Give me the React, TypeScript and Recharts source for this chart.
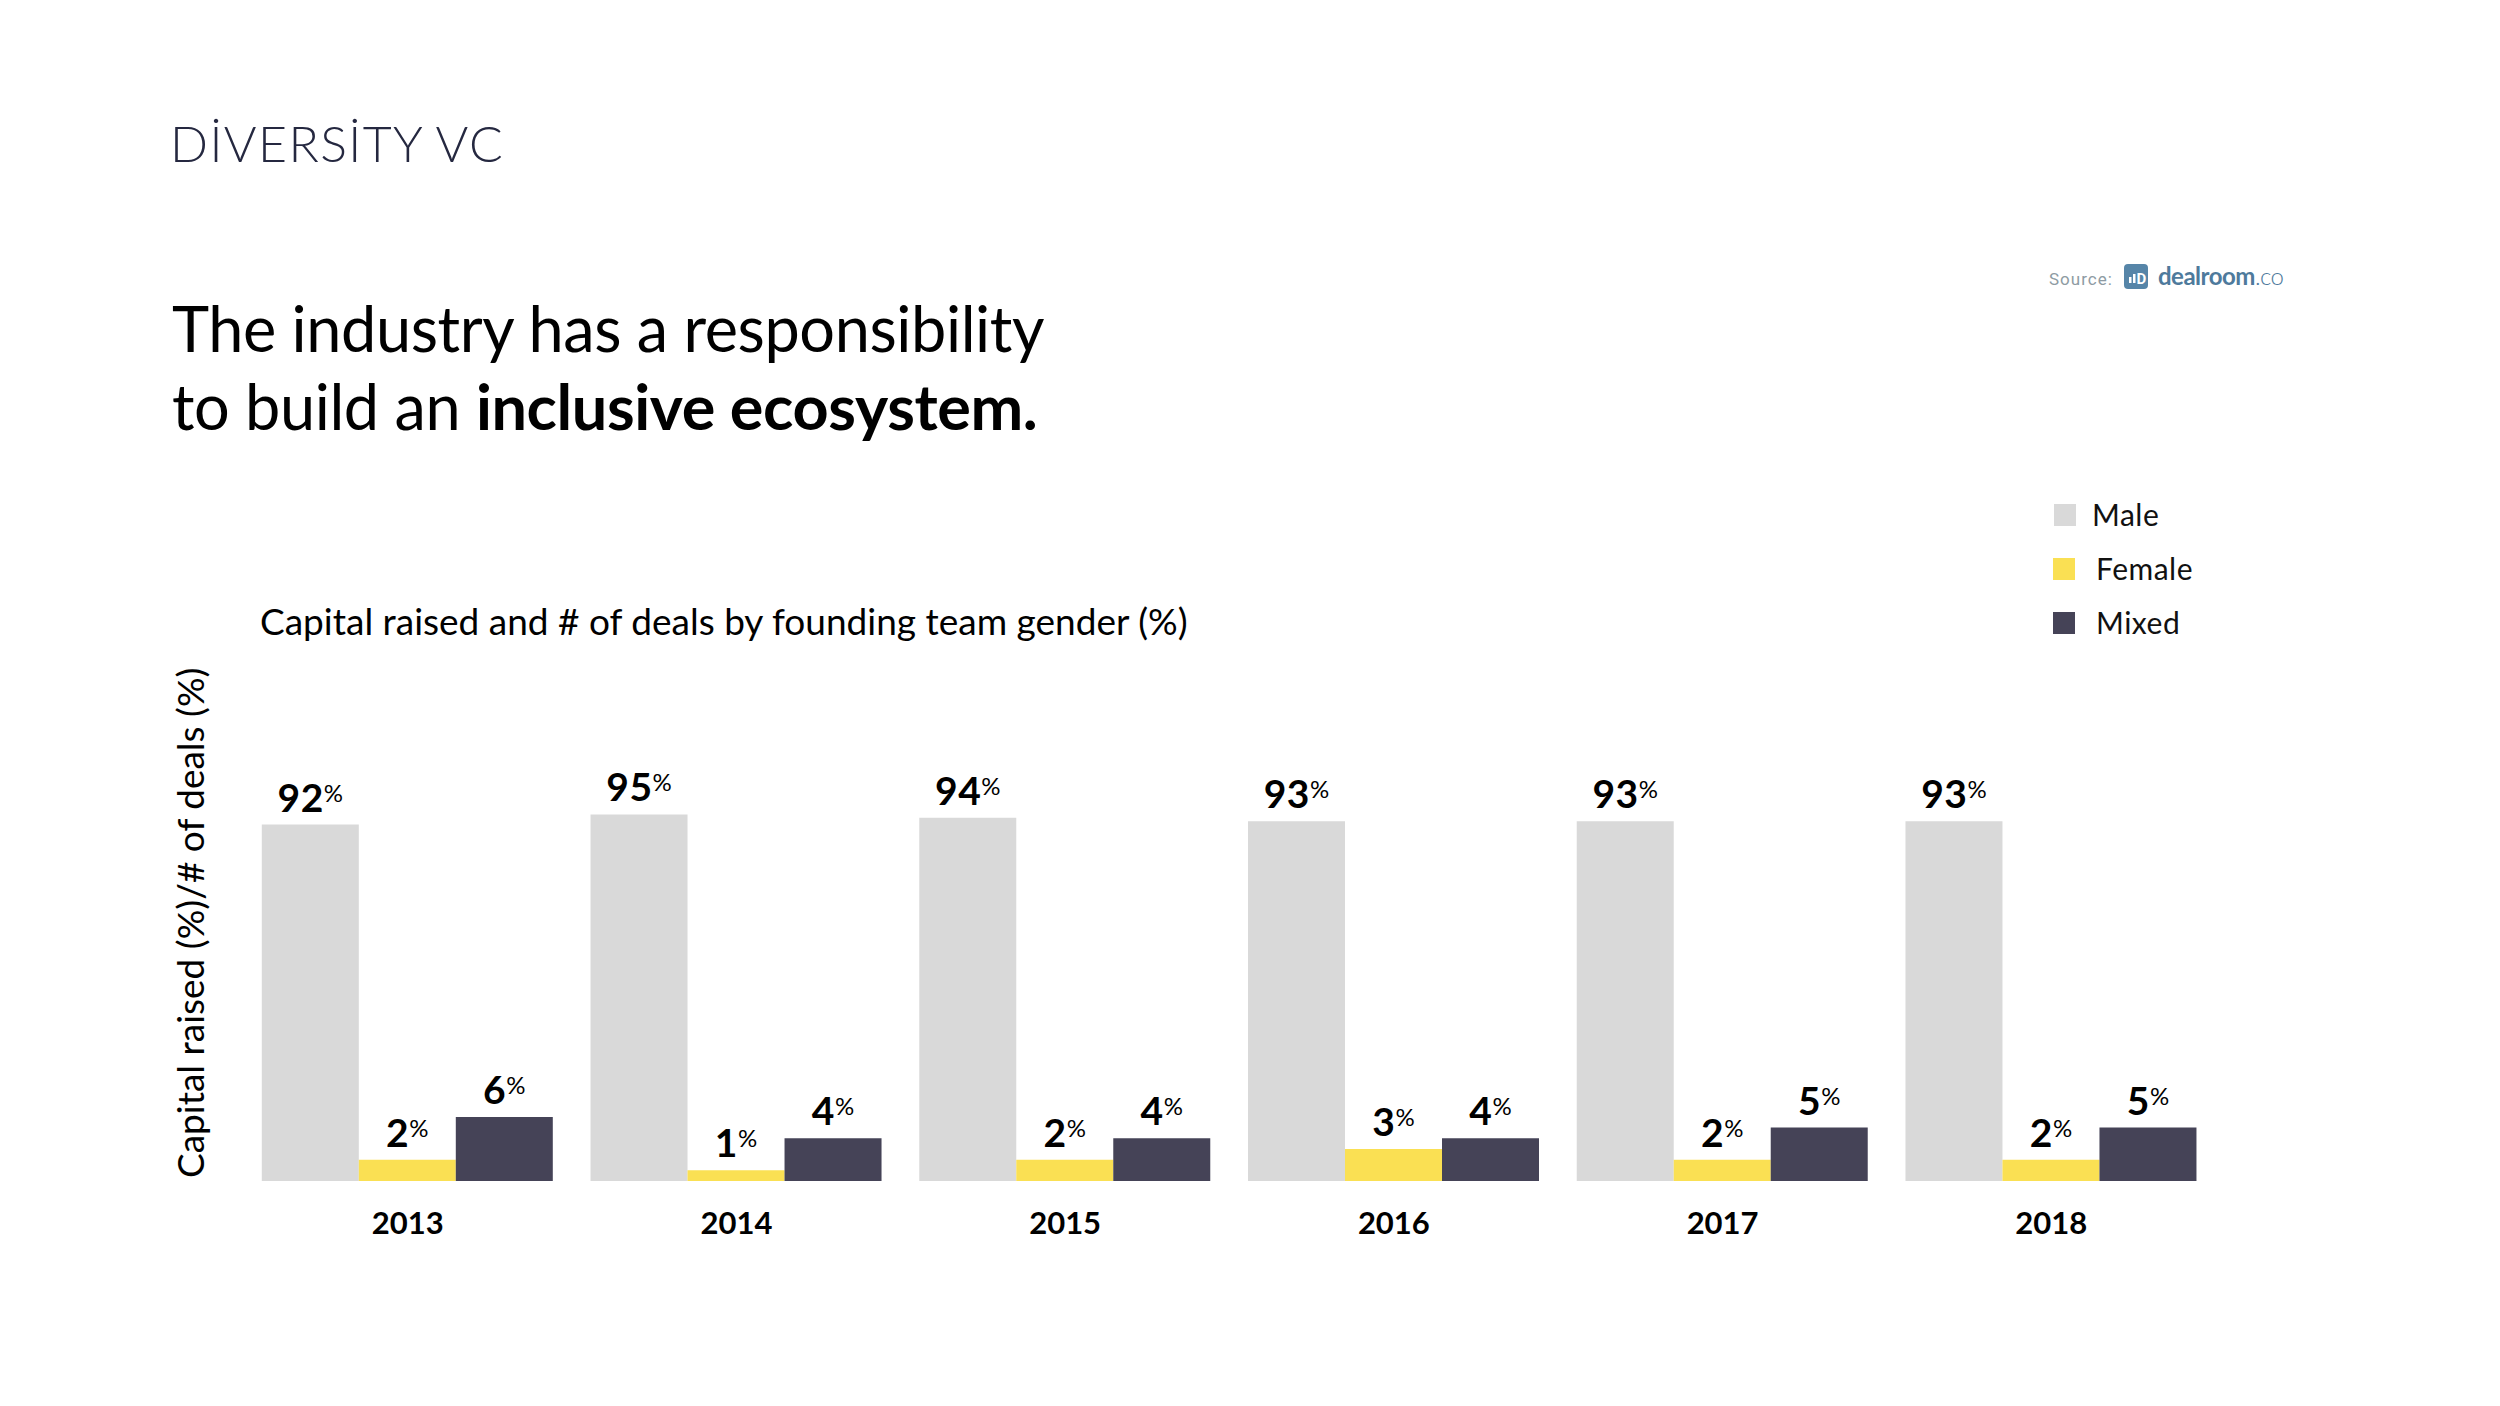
import React from 'react';
import { BarChart, Bar, XAxis, YAxis, Legend, LabelList } from 'recharts';

// ---------- data ----------
const YEARS = ['2013', '2014', '2015', '2016', '2017', '2018'];
const MALE = [92, 95, 94, 93, 93, 93];
const FEMALE = [2, 1, 2, 3, 2, 2];
const MIXED = [6, 4, 4, 4, 5, 5];
const SERIES_KEYS = ['male', 'female', 'mixed'];
const SERIES_NAMES = ['Male', 'Female', 'Mixed'];
const COLORS = ['#D9D9D9', '#FAE053', '#454357'];
const Y_DOMAIN = [0, 100];
// the source graphic exaggerates the small values: a broken (piecewise-linear) value axis
const SCALE_KNOTS = [0, 6, 100];
const SCALE_SHARE = [0, 0.167, 1];

const TITLE_LINE1 = 'The industry has a responsibility';
const TITLE_LINE2_A = 'to build an ';
const TITLE_LINE2_B = 'inclusive ecosystem.';
const SUBTITLE = 'Capital raised and # of deals by founding team gender (%)';
const Y_LABEL = 'Capital raised (%)/# of deals (%)';
const BRAND = 'DİVERSİTY VC';

const data = YEARS.map((year, i) => ({ year, male: MALE[i], female: FEMALE[i], mixed: MIXED[i] }));

const FONT = 'Lato, "Noto Sans", sans-serif';

function brokenScale(dIn: number[] = Y_DOMAIN, rIn: number[] = [0, 1]): any {
  let d = dIn.slice();
  let r = rIn.slice();
  const norm = (v: number) => {
    const t = Number(v);
    for (let i = 1; i < SCALE_KNOTS.length; i++) {
      if (t <= SCALE_KNOTS[i] || i === SCALE_KNOTS.length - 1) {
        const k0 = SCALE_KNOTS[i - 1];
        const k1 = SCALE_KNOTS[i];
        const s0 = SCALE_SHARE[i - 1];
        const s1 = SCALE_SHARE[i];
        return s0 + ((t - k0) / (k1 - k0)) * (s1 - s0);
      }
    }
    return 0;
  };
  const s: any = (v: number) => r[0] + (r[1] - r[0]) * norm(v);
  s.domain = (x?: any) => (x === undefined ? d.slice() : ((d = Array.from(x)), s));
  s.range = (x?: any) => (x === undefined ? r.slice() : ((r = Array.from(x)), s));
  s.rangeRound = (x?: any) => s.range(x);
  s.copy = () => brokenScale(d, r);
  s.ticks = () => SCALE_KNOTS.slice();
  s.tickFormat = () => (v: any) => String(v);
  s.nice = () => s;
  s.clamp = () => s;
  s.interpolate = () => s;
  s.unknown = () => s;
  s.invert = (px: number) => {
    const share = (px - r[0]) / (r[1] - r[0]);
    for (let i = 1; i < SCALE_SHARE.length; i++) {
      if (share <= SCALE_SHARE[i] || i === SCALE_SHARE.length - 1) {
        return SCALE_KNOTS[i - 1] + ((share - SCALE_SHARE[i - 1]) / (SCALE_SHARE[i] - SCALE_SHARE[i - 1])) * (SCALE_KNOTS[i] - SCALE_KNOTS[i - 1]);
      }
    }
    return 0;
  };
  return s;
}

const renderPct = (props: any) => {
  const { x, y, width, value } = props;
  const cx = Number(x) + Number(width) / 2;
  return (
    <text x={cx} y={Number(y) - 13} textAnchor="middle" fontFamily={FONT} fill="#000">
      <tspan fontSize={39} fontWeight={700} letterSpacing={0.5}>{value}</tspan>
      <tspan fontSize={24} fontWeight={400} dy={-10}>%</tspan>
    </text>
  );
};

const renderLegend = (props: any) => {
  const payload = (props.payload || []).slice().sort(
    (a: any, b: any) => SERIES_NAMES.indexOf(a.value) - SERIES_NAMES.indexOf(b.value)
  );
  return (
    <div style={{ width: 400 }}>
      {payload.map((p: any, i: number) => (
        <div key={p.value} style={{ position: 'relative', height: 54 }}>
          <div style={{ position: 'absolute', left: i === 0 ? 1 : 0, top: 0, width: 22, height: 22, background: p.color }} />
          <div
            style={{
              position: 'absolute',
              left: i === 0 ? 39 : 43,
              top: -8,
              fontFamily: FONT,
              fontSize: 30,
              lineHeight: '36px',
              letterSpacing: 0.5,
              color: '#111',
              whiteSpace: 'nowrap',
            }}
          >
            {p.value}
          </div>
        </div>
      ))}
    </div>
  );
};

const renderYLabel = (props: any) => {
  const vb = props.viewBox || { x: 0, y: 0, width: 0, height: 0 };
  const x = vb.x + vb.width - 39.7;
  const y = vb.y + vb.height - 3;
  return (
    <text x={x} y={y} transform={`rotate(-90 ${x} ${y})`} fontFamily={FONT} fontSize={37} fill="#000" textAnchor="start">
      {Y_LABEL}
    </text>
  );
};

export default function App() {
  const W = 2484;
  const H = 1390;
  return (
    <div style={{ position: 'relative', width: W, height: H, background: '#fff' }}>
      <svg width={W} height={H} style={{ position: 'absolute', left: 0, top: 0 }}>
        <g transform="translate(-8,-8)" fontFamily={FONT}>
          <text x={170} y={161.5} fontSize={50} fontWeight={300} fill="#252840" letterSpacing={1.4}>
            {BRAND}
          </text>
          <text x={172} y={352} fontSize={63} fontWeight={400} fill="#000" letterSpacing={-0.4}>
            {TITLE_LINE1}
          </text>
          <text x={172} y={430} fontSize={63} fontWeight={400} fill="#000" letterSpacing={-0.4}>
            {TITLE_LINE2_A}
            <tspan fontWeight={700}>{TITLE_LINE2_B}</tspan>
          </text>
          <text x={260} y={635} fontSize={37} fill="#000">
            {SUBTITLE}
          </text>
          <text x={2049} y={284.5} fontSize={17} fill="#8E9BA3" fontFamily="Roboto, sans-serif" letterSpacing={1}>
            Source:
          </text>
          <rect x={2124} y={264} width={24} height={25} rx={4} fill="#5685A8" />
          <rect x={2129} y={277} width={2.5} height={6} fill="#fff" />
          <rect x={2133} y={274} width={2.5} height={9} fill="#fff" />
          <text x={2136.5} y={283.5} fontSize={15} fontWeight={700} fill="#fff" fontFamily="Roboto, sans-serif">
            D
          </text>
          <text x={2158} y={285} fontSize={24} fontWeight={700} fill="#4E7A9C" letterSpacing={-0.5}>
            dealroom
            <tspan fontWeight={300}>.co</tspan>
          </text>
        </g>
      </svg>
      <div style={{ position: 'absolute', left: 0, top: 0 }}>
        <BarChart
          width={W}
          height={H}
          data={data}
          margin={{ top: 789.4, right: 276.3, left: 0, bottom: 157 }}
          barGap={0}
          barCategoryGap={18.5}
        >
          <XAxis
            dataKey="year"
            axisLine={false}
            tickLine={false}
            tickSize={0}
            tickMargin={30.6}
            height={60}
            tick={{ fontFamily: FONT, fontSize: 31, fontWeight: 700, fill: '#000' }}
          />
          <YAxis
            type="number"
            domain={Y_DOMAIN}
            scale={brokenScale()}
            width={235.3}
            axisLine={false}
            tickLine={false}
            tick={false}
            label={{ content: renderYLabel }}
          />
          <Legend
            layout="vertical"
            align="center"
            verticalAlign="middle"
            content={renderLegend}
            wrapperStyle={{ left: 2045, top: 496, width: 400, height: 170 }}
          />
          {SERIES_KEYS.map((k, i) => (
            <Bar key={k} dataKey={k} name={SERIES_NAMES[i]} fill={COLORS[i]} isAnimationActive={false}>
              <LabelList dataKey={k} content={renderPct} />
            </Bar>
          ))}
        </BarChart>
      </div>
    </div>
  );
}
